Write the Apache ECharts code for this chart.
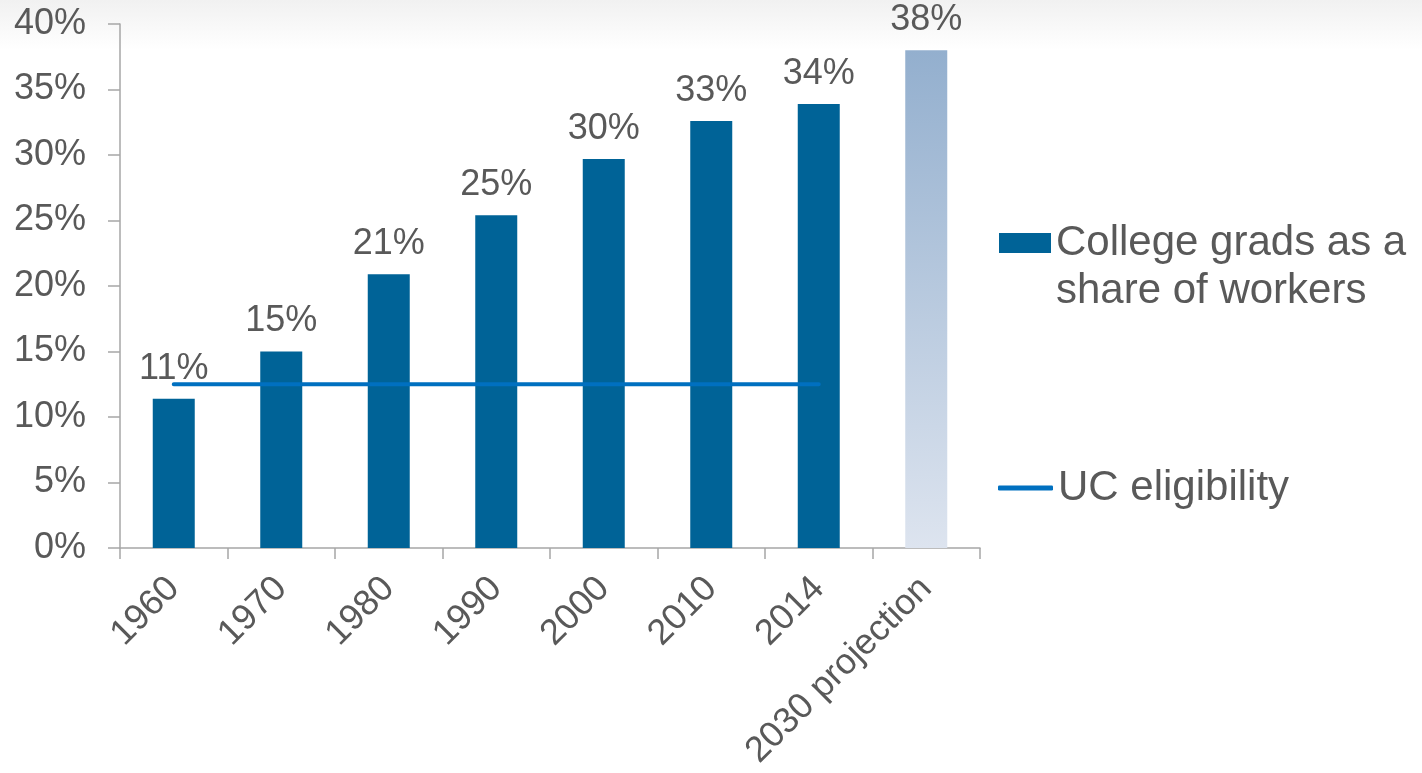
<!DOCTYPE html>
<html>
<head>
<meta charset="utf-8">
<title>College grads as a share of workers</title>
<script src="https://cdn.jsdelivr.net/npm/echarts@6/dist/echarts.min.js"></script>
<style>
  html, body { margin: 0; padding: 0; background: #fff; }
  #chart { width: 1422px; height: 773px; }
</style>
</head>
<body>
<div id="chart"></div>
<script>
// 数据
const years = ['1960', '1970', '1980', '1990', '2000', '2010', '2014', '2030 projection'];
const collegeShare = [11.4, 15.0, 20.9, 25.4, 29.7, 32.6, 33.9, 38.0];
const ucEligibility = [12.5, 12.5, 12.5, 12.5, 12.5, 12.5, 12.5, null];
const projectionIndex = 7;

const FONT = 'Arial, "Liberation Sans", sans-serif';
const TEXT = '#595959';
const AXIS = '#a6a6a6';
const BAR = '#006397';
const LINE = '#0070c0';

const chart = echarts.init(document.getElementById('chart'), null, { renderer: 'canvas' });

// 2030 预测柱使用渐变色
const barData = collegeShare.map((v, i) => {
  if (i !== projectionIndex) return v;
  return {
    value: v,
    itemStyle: {
      color: new echarts.graphic.LinearGradient(0, 0, 0, 1, [
        { offset: 0, color: '#93afce' },
        { offset: 1, color: '#dde4ef' }
      ])
    }
  };
});

chart.setOption({
  animation: false,
  backgroundColor: new echarts.graphic.LinearGradient(0, 0, 0, 1, [
    { offset: 0, color: '#f1f1f1' },
    { offset: 0.065, color: '#ffffff' },
    { offset: 1, color: '#ffffff' }
  ]),
  textStyle: { fontFamily: FONT },
  grid: { left: 120, right: 442, top: 24, bottom: 225 },
  legend: [
    {
      left: 994,
      top: 166,
      icon: 'rect',
      itemWidth: 52,
      itemHeight: 20,
      selectedMode: false,
      data: ['College grads as a share of workers'],
      // 空首行让第一行文字与图标对齐
      formatter: () => '\nCollege grads as a\nshare of workers',
      textStyle: { fontSize: 42, color: TEXT, fontFamily: FONT, lineHeight: 48 }
    },
    {
      left: 993,
      top: 459,
      icon: 'roundRect',
      itemWidth: 55,
      itemHeight: 5,
      selectedMode: false,
      data: ['UC eligibility'],
      textStyle: { fontSize: 42, color: TEXT, fontFamily: FONT, lineHeight: 48 }
    }
  ],
  xAxis: {
    type: 'category',
    data: years,
    axisLine: { lineStyle: { color: AXIS, width: 1.5 } },
    axisTick: { show: true, interval: 0, length: 11, lineStyle: { color: AXIS, width: 1.5 } },
    axisLabel: { interval: 0, rotate: 45, margin: 35, fontSize: 36, color: TEXT, fontFamily: FONT }
  },
  yAxis: {
    type: 'value',
    min: 0,
    max: 40,
    interval: 5,
    axisLine: { show: true, lineStyle: { color: AXIS, width: 1.5 } },
    axisTick: { show: true, inside: false, length: 12, lineStyle: { color: AXIS, width: 1.5 } },
    splitLine: { show: false },
    axisLabel: { formatter: '{value}%', fontSize: 36, color: TEXT, fontFamily: FONT, margin: 34 }
  },
  series: [
    {
      name: 'College grads as a share of workers',
      type: 'bar',
      barWidth: 42,
      data: barData,
      itemStyle: { color: BAR },
      label: {
        show: true,
        position: 'top',
        distance: 12,
        fontSize: 36,
        color: TEXT,
        fontFamily: FONT,
        formatter: p => Math.round(p.value) + '%'
      }
    },
    {
      name: 'UC eligibility',
      type: 'line',
      data: ucEligibility,
      symbol: 'none',
      itemStyle: { color: LINE },
      lineStyle: { color: LINE, width: 4, cap: 'round' },
      z: 3
    }
  ]
});
</script>
</body>
</html>
